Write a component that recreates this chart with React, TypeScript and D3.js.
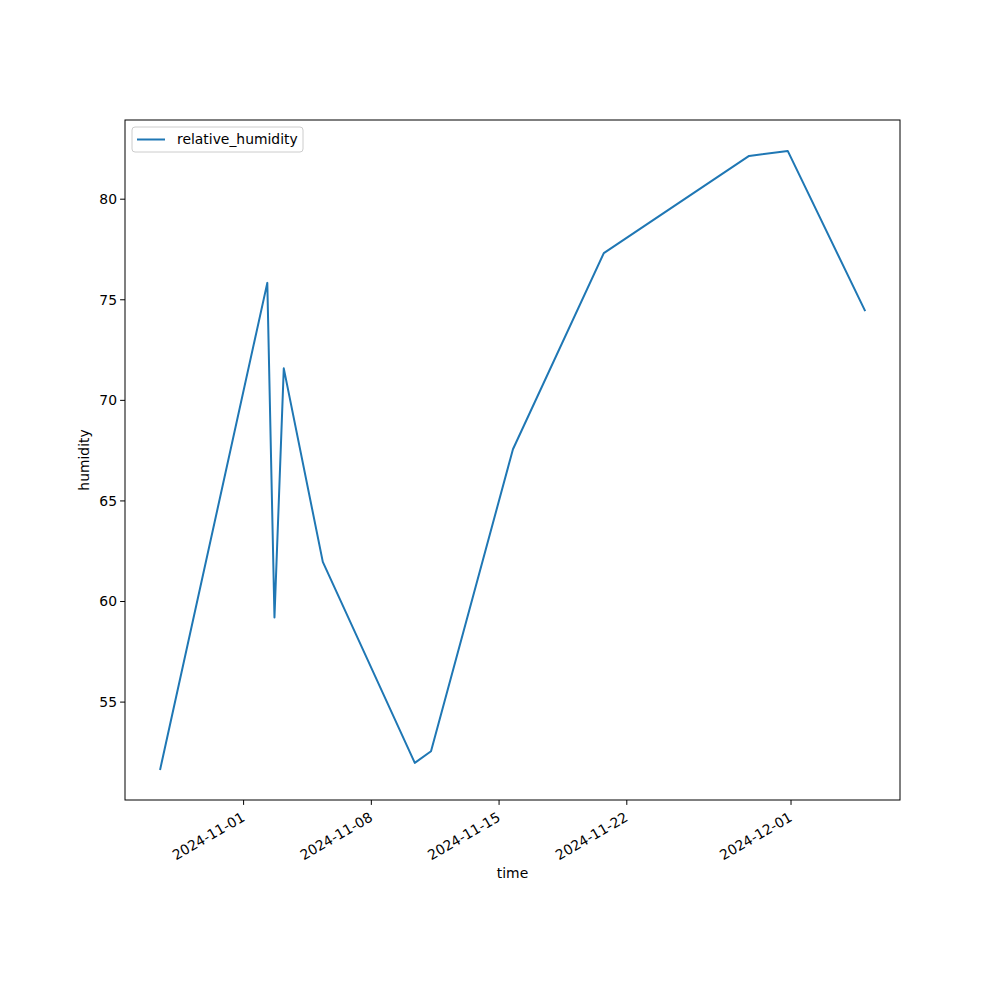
import React, { useEffect, useRef } from 'react';
import * as d3 from 'd3';

// readings
const times: string[] = [
  '2024-10-27T10:20Z',
  '2024-11-02T07:10Z',
  '2024-11-02T16:35Z',
  '2024-11-03T04:50Z',
  '2024-11-05T08:10Z',
  '2024-11-10T09:10Z',
  '2024-11-11T06:30Z',
  '2024-11-15T18:15Z',
  '2024-11-20T17:45Z',
  '2024-11-28T16:50Z',
  '2024-11-30T19:40Z',
  '2024-12-05T01:00Z',
];
const humidity: number[] = [51.67, 75.84, 59.21, 71.59, 61.97, 51.98, 52.56, 67.57, 77.32, 82.15, 82.4, 74.48];
const xTicks: string[] = ['2024-11-01', '2024-11-08', '2024-11-15', '2024-11-22', '2024-12-01'];
const yTicks: number[] = [55, 60, 65, 70, 75, 80];
const seriesName = 'relative_humidity';

const App: React.FC = () => {
  const ref = useRef<SVGSVGElement>(null);

  useEffect(() => {
    const svg = d3.select(ref.current);
    svg.selectAll('*').remove();

    const left = 125, right = 900, top = 120, bottom = 800;
    const font = 'DejaVu Sans, sans-serif';
    const fs = 13.9;
    const color = '#1f77b4';

    const dates = times.map(t => new Date(t));
    const [x0, x1] = d3.extent(dates) as [Date, Date];
    const xPad = (+x1 - +x0) * 0.05;
    const x = d3.scaleUtc()
      .domain([new Date(+x0 - xPad), new Date(+x1 + xPad)])
      .range([left, right]);

    const [y0, y1] = d3.extent(humidity) as [number, number];
    const yPad = (y1 - y0) * 0.05;
    const y = d3.scaleLinear().domain([y0 - yPad, y1 + yPad]).range([bottom, top]);

    svg.append('rect')
      .attr('width', 1000).attr('height', 1000).attr('fill', 'white');

    const line = d3.line<number>()
      .x((_, i) => x(dates[i]))
      .y(d => y(d));

    svg.append('path')
      .datum(humidity)
      .attr('d', line)
      .attr('fill', 'none')
      .attr('stroke', color)
      .attr('stroke-width', 2)
      .attr('stroke-linejoin', 'round')
      .attr('stroke-linecap', 'square');

    // frame
    svg.append('rect')
      .attr('x', left).attr('y', top)
      .attr('width', right - left).attr('height', bottom - top)
      .attr('fill', 'none').attr('stroke', 'black').attr('stroke-width', 1);

    // x ticks
    const xg = svg.append('g');
    xTicks.forEach(t => {
      const px = x(new Date(t + 'T00:00Z'));
      xg.append('line')
        .attr('x1', px).attr('x2', px)
        .attr('y1', bottom).attr('y2', bottom + 4.9)
        .attr('stroke', 'black');
      xg.append('text')
        .attr('transform', `translate(${px - 3},${bottom + 11}) rotate(-30)`)
        .attr('text-anchor', 'end')
        .attr('dy', '0.75em')
        .style('font-family', font)
        .style('font-size', `${fs}px`)
        .text(t);
    });

    // y ticks
    const yg = svg.append('g');
    yTicks.forEach(v => {
      const py = y(v);
      yg.append('line')
        .attr('x1', left - 4.9).attr('x2', left)
        .attr('y1', py).attr('y2', py)
        .attr('stroke', 'black');
      yg.append('text')
        .attr('x', left - 8).attr('y', py)
        .attr('dy', '0.35em')
        .attr('text-anchor', 'end')
        .style('font-family', font)
        .style('font-size', `${fs}px`)
        .text(v);
    });

    svg.append('text')
      .attr('x', (left + right) / 2).attr('y', 878)
      .attr('text-anchor', 'middle')
      .style('font-family', font)
      .style('font-size', `${fs}px`)
      .text('time');

    svg.append('text')
      .attr('transform', `translate(89,${(top + bottom) / 2}) rotate(-90)`)
      .attr('text-anchor', 'middle')
      .style('font-family', font)
      .style('font-size', `${fs}px`)
      .text('humidity');

    // legend
    const lg = svg.append('g').attr('transform', `translate(${left + 7},${top + 7})`);
    lg.append('rect')
      .attr('width', 171).attr('height', 25).attr('rx', 3)
      .attr('fill', 'white').attr('stroke', '#cccccc').attr('stroke-width', 1);
    lg.append('line')
      .attr('x1', 5).attr('x2', 33).attr('y1', 12.5).attr('y2', 12.5)
      .attr('stroke', color).attr('stroke-width', 2);
    lg.append('text')
      .attr('x', 45).attr('y', 12.5).attr('dy', '0.35em')
      .style('font-family', font)
      .style('font-size', `${fs}px`)
      .text(seriesName);
  }, []);

  return <svg ref={ref} width={1000} height={1000} style={{ display: 'block', margin: -8 }} />;
};

export default App;
